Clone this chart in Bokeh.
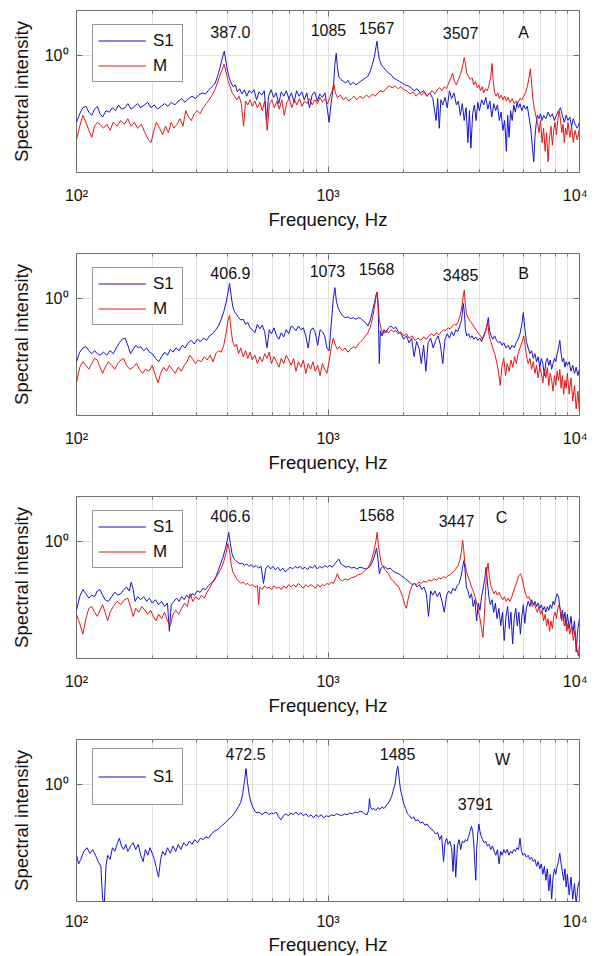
from bokeh.plotting import figure
from bokeh.models import (FixedTicker, LogAxis, Legend, LegendItem,
                          ColumnDataSource, Range1d)
from bokeh.layouts import column
from bokeh.embed import file_html
from bokeh.resources import INLINE
from bokeh.core.properties import value

FONT = "Liberation Sans"
BLUE = "#1414cc"
RED = "#e01818"

# ---------------- data (frequency Hz, spectral intensity) ----------------
A_S1 = [(100,0.29),(103,0.34),(106,0.38),(109,0.39),(112,0.35),(115,0.33),(118,0.37),(121,0.39),(124,0.34),(127,0.32),
        (131,0.36),(135,0.35),(139,0.38),(143,0.36),(147,0.40),(151,0.37),(156,0.38),(160,0.41),(165,0.37),(170,0.39),
        (175,0.41),(180,0.38),(186,0.40),(192,0.42),(198,0.38),(204,0.40),(210,0.37),(217,0.39),(224,0.41),(231,0.39),
        (238,0.42),(246,0.40),(254,0.43),(262,0.45),(270,0.42),(279,0.45),(288,0.47),(297,0.45),(306,0.48),(316,0.50),
        (326,0.49),(336,0.53),(346,0.56),(356,0.60),(364,0.68),(372,0.80),(380,0.95),(387,1.08),(392,0.92),(398,0.76),
        (405,0.66),(412,0.60),(420,0.56),(428,0.58),(436,0.51),(445,0.54),(455,0.49),(465,0.53),(475,0.47),(485,0.52),
        (497,0.50),(508,0.53),(520,0.44),(532,0.51),(545,0.48),(558,0.52),(570,0.30),(580,0.47),(594,0.53),(608,0.46),
        (622,0.50),(637,0.41),(652,0.51),(667,0.47),(683,0.52),(699,0.45),(716,0.50),(733,0.42),(750,0.52),(768,0.47),
        (786,0.51),(805,0.44),(824,0.50),(844,0.38),(864,0.48),(885,0.51),(906,0.43),(928,0.49),(950,0.46),(973,0.50),
        (996,0.36),(1010,0.29),(1030,0.42),(1050,0.55),(1065,0.85),(1078,1.04),(1090,0.80),(1105,0.67),(1125,0.64),(1150,0.62),
        (1175,0.60),(1200,0.63),(1230,0.58),(1260,0.61),(1290,0.58),(1320,0.60),(1350,0.62),(1380,0.64),(1410,0.66),(1440,0.68),
        (1470,0.74),(1500,0.84),(1530,0.98),(1555,1.20),(1567,1.30),(1580,1.10),(1600,0.93),(1630,0.84),(1660,0.80),(1700,0.76),
        (1740,0.72),(1780,0.70),(1820,0.66),(1870,0.64),(1920,0.62),(1970,0.60),(2020,0.58),(2080,0.57),(2140,0.55),(2200,0.52),
        (2260,0.54),(2330,0.50),(2400,0.52),(2470,0.47),(2540,0.50),(2610,0.45),(2690,0.30),(2730,0.45),(2770,0.26),(2810,0.44),
        (2860,0.40),(2920,0.46),(2980,0.38),(3040,0.52),(3100,0.45),(3170,0.50),(3240,0.40),(3300,0.43),(3360,0.33),(3420,0.41),
        (3480,0.30),(3540,0.38),(3600,0.20),(3650,0.36),(3700,0.18),(3760,0.34),(3820,0.40),(3880,0.30),(3940,0.42),(4000,0.36),
        (4080,0.44),(4160,0.40),(4240,0.46),(4320,0.37),(4400,0.43),(4480,0.32),(4560,0.41),(4640,0.36),(4720,0.40),(4800,0.30),
        (4880,0.35),(4960,0.25),(5040,0.30),(5120,0.17),(5180,0.33),(5250,0.22),(5320,0.36),(5400,0.30),(5480,0.40),(5560,0.35),
        (5640,0.42),(5720,0.38),(5800,0.41),(5900,0.36),(6000,0.40),(6100,0.37),(6200,0.39),(6300,0.32),(6400,0.26),(6500,0.18),
        (6580,0.14),(6650,0.22),(6720,0.28),(6800,0.33),(6900,0.31),(7000,0.34),(7100,0.30),(7200,0.33),(7350,0.31),(7500,0.35),
        (7650,0.32),(7800,0.34),(7950,0.30),(8100,0.33),(8250,0.36),(8400,0.38),(8550,0.33),(8700,0.29),(8850,0.33),(9000,0.30),
        (9150,0.32),(9300,0.27),(9450,0.31),(9600,0.28),(9800,0.26),(10000,0.29)]

A_M = [(100,0.21),(103,0.27),(106,0.33),(109,0.29),(112,0.25),(115,0.22),(118,0.27),(121,0.29),(124,0.28),(128,0.26),
       (132,0.28),(136,0.25),(140,0.29),(145,0.27),(150,0.30),(155,0.28),(160,0.31),(165,0.27),(170,0.29),(175,0.26),
       (181,0.28),(187,0.24),(193,0.21),(198,0.20),(203,0.25),(208,0.29),(214,0.26),(220,0.23),(226,0.27),(232,0.24),
       (238,0.29),(244,0.26),(251,0.28),(258,0.31),(265,0.27),(272,0.36),(279,0.32),(286,0.30),(294,0.34),(302,0.36),
       (310,0.34),(319,0.38),(328,0.41),(337,0.44),(346,0.48),(355,0.53),(363,0.60),(371,0.68),(379,0.76),(386,0.85),
       (393,0.74),(400,0.63),(408,0.56),(416,0.50),(425,0.47),(434,0.44),(443,0.47),(452,0.41),(462,0.27),(470,0.43),
       (480,0.40),(490,0.44),(500,0.39),(512,0.43),(524,0.38),(536,0.42),(548,0.36),(560,0.43),(573,0.25),(585,0.41),
       (598,0.44),(612,0.38),(626,0.43),(640,0.37),(655,0.44),(670,0.33),(686,0.42),(702,0.45),(718,0.38),(735,0.44),
       (752,0.40),(770,0.45),(788,0.39),(807,0.43),(826,0.41),(845,0.45),(865,0.40),(886,0.44),(907,0.41),(929,0.46),
       (951,0.42),(974,0.45),(997,0.41),(1020,0.47),(1040,0.52),(1055,0.59),(1070,0.50),(1090,0.46),(1120,0.48),(1150,0.44),
       (1180,0.46),(1210,0.43),(1240,0.45),(1270,0.47),(1300,0.44),(1340,0.47),(1380,0.45),(1420,0.48),(1460,0.46),(1500,0.49),
       (1540,0.47),(1580,0.50),(1620,0.52),(1660,0.51),(1700,0.54),(1750,0.57),(1800,0.55),(1850,0.57),(1900,0.54),(1950,0.56),
       (2000,0.53),(2060,0.52),(2120,0.49),(2180,0.51),(2240,0.47),(2300,0.50),(2360,0.48),(2420,0.51),(2480,0.47),(2540,0.50),
       (2600,0.52),(2660,0.49),(2720,0.53),(2780,0.55),(2840,0.52),(2900,0.56),(2960,0.54),(3020,0.60),(3080,0.66),(3130,0.72),
       (3180,0.62),(3240,0.58),(3300,0.64),(3360,0.70),(3420,0.80),(3480,0.96),(3520,0.86),(3560,0.72),(3620,0.68),(3680,0.64),
       (3740,0.66),(3800,0.58),(3860,0.62),(3920,0.55),(3980,0.58),(4040,0.52),(4100,0.56),(4160,0.50),(4230,0.54),(4300,0.52),
       (4370,0.58),(4430,0.66),(4490,0.86),(4540,0.62),(4600,0.50),(4660,0.47),(4730,0.50),(4800,0.45),(4880,0.48),(4960,0.44),
       (5040,0.47),(5120,0.43),(5200,0.46),(5300,0.42),(5400,0.45),(5500,0.41),(5600,0.43),(5700,0.42),(5800,0.45),(5900,0.44),
       (6000,0.47),(6100,0.50),(6200,0.56),(6300,0.66),(6380,0.78),(6450,0.60),(6520,0.46),(6600,0.38),(6700,0.33),(6800,0.29),
       (6900,0.24),(7000,0.30),(7100,0.20),(7200,0.26),(7300,0.17),(7400,0.24),(7500,0.14),(7600,0.22),(7700,0.27),(7800,0.19),
       (7900,0.25),(8000,0.29),(8100,0.23),(8200,0.30),(8300,0.36),(8400,0.31),(8500,0.24),(8600,0.28),(8700,0.20),(8800,0.26),
       (8900,0.23),(9000,0.29),(9150,0.22),(9300,0.27),(9450,0.20),(9600,0.25),(9800,0.21),(10000,0.26)]

B_S1 = [(100,0.31),(103,0.37),(106,0.40),(109,0.41),(112,0.38),(115,0.36),(118,0.38),(121,0.36),(124,0.35),(128,0.37),
        (132,0.35),(136,0.38),(140,0.36),(144,0.40),(148,0.44),(152,0.47),(156,0.48),(160,0.42),(164,0.36),(168,0.39),
        (172,0.42),(176,0.40),(180,0.41),(185,0.38),(190,0.40),(195,0.37),(200,0.36),(206,0.33),(212,0.31),(218,0.34),
        (224,0.37),(230,0.35),(236,0.39),(242,0.37),(249,0.40),(256,0.38),(263,0.42),(270,0.40),(278,0.44),(286,0.46),
        (294,0.43),(302,0.47),(311,0.45),(320,0.48),(329,0.46),(338,0.50),(348,0.52),(358,0.56),(367,0.60),(376,0.68),
        (385,0.78),(393,0.92),(400,1.10),(406,1.32),(412,1.05),(418,0.86),(425,0.78),(433,0.74),(441,0.70),(450,0.67),
        (460,0.68),(470,0.62),(480,0.64),(490,0.58),(500,0.56),(512,0.53),(524,0.62),(536,0.57),(548,0.61),(560,0.54),
        (572,0.40),(584,0.56),(596,0.52),(610,0.58),(624,0.50),(638,0.47),(652,0.53),(667,0.49),(682,0.56),(698,0.52),
        (714,0.60),(730,0.58),(746,0.55),(763,0.60),(780,0.56),(798,0.58),(816,0.50),(834,0.40),(852,0.55),(871,0.58),
        (890,0.53),(910,0.42),(930,0.56),(950,0.54),(970,0.50),(990,0.40),(1010,0.38),(1030,0.62),(1050,1.00),(1065,1.22),
        (1080,0.95),(1095,0.85),(1115,0.78),(1140,0.73),(1170,0.70),(1200,0.71),(1230,0.69),(1260,0.70),(1290,0.68),(1320,0.70),
        (1350,0.69),(1380,0.66),(1410,0.64),(1440,0.60),(1470,0.66),(1500,0.78),(1530,0.92),(1555,1.08),(1568,1.12),(1582,0.90),
        (1600,0.30),(1615,0.55),(1640,0.50),(1670,0.56),(1700,0.53),(1740,0.58),(1780,0.60),(1820,0.57),(1860,0.59),(1900,0.54),
        (1950,0.52),(2000,0.47),(2050,0.50),(2100,0.44),(2150,0.48),(2200,0.34),(2250,0.45),(2300,0.40),(2350,0.30),(2400,0.42),
        (2450,0.26),(2500,0.44),(2560,0.48),(2620,0.40),(2680,0.46),(2740,0.50),(2800,0.42),(2860,0.30),(2920,0.47),(2980,0.52),
        (3040,0.48),(3100,0.54),(3160,0.50),(3220,0.56),(3280,0.54),(3340,0.60),(3400,0.68),(3450,0.91),(3490,0.75),(3520,0.56),
        (3560,0.50),(3620,0.52),(3680,0.48),(3740,0.50),(3800,0.47),(3870,0.49),(3940,0.46),(4010,0.48),(4080,0.45),(4150,0.50),
        (4220,0.54),(4290,0.62),(4340,0.70),(4390,0.55),(4450,0.50),(4520,0.47),(4600,0.50),(4680,0.46),(4760,0.44),(4840,0.45),
        (4920,0.42),(5000,0.44),(5100,0.40),(5200,0.42),(5300,0.39),(5400,0.42),(5500,0.40),(5600,0.44),(5700,0.47),(5800,0.52),
        (5900,0.62),(5980,0.77),(6060,0.58),(6150,0.45),(6250,0.40),(6350,0.36),(6450,0.38),(6550,0.33),(6650,0.36),(6750,0.31),
        (6850,0.34),(6950,0.28),(7050,0.33),(7150,0.30),(7250,0.24),(7350,0.31),(7450,0.33),(7550,0.29),(7650,0.32),(7750,0.27),
        (7850,0.30),(7950,0.33),(8050,0.31),(8150,0.36),(8250,0.40),(8350,0.46),(8450,0.36),(8550,0.31),(8650,0.33),(8750,0.28),
        (8850,0.31),(8950,0.29),(9100,0.31),(9250,0.26),(9400,0.29),(9550,0.25),(9700,0.28),(9850,0.24),(10000,0.27)]

B_M = [(100,0.21),(103,0.28),(106,0.31),(109,0.29),(112,0.27),(115,0.30),(118,0.33),(121,0.32),(124,0.28),(127,0.25),
       (130,0.28),(134,0.31),(138,0.29),(142,0.27),(146,0.30),(150,0.32),(154,0.33),(158,0.29),(163,0.27),(168,0.28),
       (173,0.30),(178,0.27),(183,0.25),(188,0.27),(194,0.26),(200,0.29),(206,0.24),(211,0.21),(216,0.25),(222,0.28),
       (228,0.26),(234,0.29),(240,0.27),(247,0.25),(254,0.28),(261,0.26),(268,0.29),(275,0.31),(282,0.35),(289,0.33),
       (297,0.30),(305,0.32),(313,0.31),(322,0.34),(331,0.32),(340,0.35),(349,0.31),(358,0.36),(367,0.38),(376,0.37),
       (385,0.42),(393,0.52),(400,0.66),(406,0.73),(412,0.55),(418,0.45),(425,0.41),(433,0.43),(441,0.36),(450,0.40),
       (460,0.34),(470,0.38),(480,0.33),(490,0.37),(500,0.32),(512,0.35),(524,0.30),(536,0.34),(548,0.31),(560,0.36),
       (572,0.33),(584,0.37),(596,0.30),(610,0.34),(624,0.31),(638,0.28),(652,0.33),(667,0.30),(682,0.35),(698,0.32),
       (714,0.29),(730,0.33),(746,0.26),(763,0.31),(780,0.28),(798,0.32),(816,0.25),(834,0.30),(852,0.27),(871,0.31),
       (890,0.26),(910,0.29),(930,0.24),(950,0.30),(970,0.27),(990,0.25),(1010,0.31),(1030,0.40),(1050,0.48),(1070,0.42),
       (1090,0.39),(1110,0.41),(1140,0.38),(1170,0.40),(1200,0.37),(1230,0.39),(1260,0.41),(1290,0.40),(1320,0.43),(1350,0.45),
       (1380,0.47),(1410,0.50),(1440,0.53),(1470,0.58),(1500,0.68),(1530,0.85),(1555,1.05),(1568,1.12),(1582,0.88),(1600,0.66),
       (1630,0.56),(1660,0.52),(1700,0.55),(1740,0.53),(1780,0.56),(1820,0.54),(1860,0.55),(1900,0.52),(1950,0.54),(2000,0.50),
       (2050,0.52),(2100,0.48),(2160,0.50),(2220,0.46),(2280,0.48),(2340,0.46),(2400,0.49),(2460,0.47),(2520,0.50),(2580,0.52),
       (2640,0.50),(2700,0.53),(2760,0.51),(2820,0.54),(2880,0.56),(2940,0.55),(3000,0.58),(3060,0.57),(3120,0.60),(3180,0.62),
       (3240,0.61),(3300,0.66),(3360,0.74),(3420,0.90),(3460,1.10),(3485,1.16),(3510,0.92),(3550,0.76),(3600,0.70),(3650,0.67),
       (3710,0.64),(3770,0.61),(3830,0.58),(3900,0.55),(3970,0.52),(4040,0.50),(4110,0.47),(4180,0.50),(4250,0.56),(4320,0.64),
       (4370,0.50),(4440,0.45),(4520,0.40),(4600,0.36),(4680,0.31),(4760,0.26),(4840,0.20),(4920,0.29),(5000,0.33),(5080,0.24),
       (5160,0.30),(5250,0.26),(5340,0.32),(5430,0.28),(5520,0.34),(5610,0.30),(5700,0.36),(5800,0.40),(5900,0.44),(6000,0.50),
       (6080,0.42),(6160,0.34),(6250,0.30),(6350,0.33),(6450,0.27),(6550,0.31),(6650,0.25),(6750,0.29),(6850,0.23),(6950,0.28),
       (7050,0.25),(7150,0.21),(7250,0.27),(7350,0.23),(7450,0.28),(7550,0.20),(7650,0.25),(7750,0.22),(7850,0.18),(7950,0.24),
       (8050,0.20),(8150,0.26),(8250,0.22),(8350,0.27),(8450,0.19),(8550,0.24),(8650,0.17),(8750,0.22),(8850,0.19),(8950,0.25),
       (9100,0.17),(9250,0.23),(9400,0.15),(9550,0.20),(9700,0.13),(9850,0.18),(10000,0.12)]

C_S1 = [(100,0.28),(103,0.36),(106,0.41),(109,0.38),(112,0.35),(115,0.37),(118,0.36),(121,0.40),(124,0.41),(127,0.37),
        (130,0.34),(134,0.33),(138,0.36),(142,0.39),(146,0.37),(150,0.38),(154,0.41),(158,0.43),(162,0.40),(165,0.47),
        (168,0.41),(171,0.33),(175,0.36),(180,0.34),(185,0.36),(190,0.33),(195,0.35),(200,0.32),(206,0.34),(212,0.31),
        (218,0.33),(224,0.30),(230,0.32),(234,0.19),(238,0.31),(244,0.33),(250,0.35),(256,0.33),(262,0.36),(268,0.34),
        (274,0.37),(281,0.35),(288,0.38),(295,0.37),(302,0.40),(310,0.39),(318,0.42),(326,0.41),(334,0.44),(342,0.46),
        (350,0.48),(358,0.52),(366,0.58),(374,0.66),(382,0.74),(390,0.86),(397,1.00),(403,1.18),(409,0.96),(415,0.80),
        (422,0.73),(430,0.70),(438,0.68),(447,0.66),(456,0.67),(465,0.64),(475,0.66),(485,0.63),(495,0.65),(506,0.62),
        (518,0.64),(530,0.61),(542,0.63),(554,0.46),(566,0.61),(578,0.64),(591,0.60),(604,0.63),(618,0.59),(632,0.62),
        (646,0.58),(661,0.61),(676,0.57),(691,0.59),(707,0.62),(723,0.60),(740,0.63),(757,0.61),(774,0.63),(792,0.60),
        (810,0.62),(829,0.59),(848,0.63),(867,0.61),(887,0.64),(907,0.60),(928,0.63),(949,0.61),(971,0.64),(993,0.62),
        (1016,0.64),(1040,0.62),(1064,0.66),(1088,0.70),(1105,0.72),(1125,0.66),(1150,0.64),(1180,0.62),(1210,0.63),(1240,0.61),
        (1270,0.62),(1300,0.60),(1340,0.62),(1380,0.61),(1420,0.60),(1460,0.62),(1500,0.68),(1535,0.78),(1560,0.88),(1580,0.72),
        (1600,0.55),(1620,0.60),(1650,0.63),(1690,0.62),(1730,0.60),(1770,0.61),(1810,0.58),(1860,0.56),(1910,0.55),(1960,0.53),
        (2010,0.51),(2060,0.49),(2110,0.47),(2160,0.45),(2210,0.46),(2260,0.43),(2310,0.45),(2360,0.41),(2410,0.43),(2460,0.38),
        (2510,0.25),(2560,0.40),(2610,0.37),(2660,0.40),(2720,0.36),(2780,0.39),(2840,0.33),(2900,0.27),(2960,0.37),(3020,0.40),
        (3080,0.38),(3140,0.42),(3200,0.40),(3260,0.44),(3320,0.46),(3380,0.52),(3430,0.62),(3470,0.70),(3510,0.58),(3550,0.43),
        (3600,0.40),(3660,0.35),(3720,0.38),(3780,0.30),(3840,0.34),(3900,0.23),(3960,0.32),(4020,0.28),(4080,0.36),(4140,0.42),
        (4200,0.50),(4250,0.62),(4300,0.48),(4360,0.36),(4420,0.31),(4490,0.34),(4560,0.27),(4630,0.32),(4700,0.24),(4780,0.29),
        (4860,0.21),(4940,0.27),(5020,0.16),(5100,0.25),(5180,0.30),(5260,0.20),(5340,0.27),(5420,0.15),(5500,0.24),(5580,0.29),
        (5660,0.21),(5740,0.27),(5820,0.18),(5900,0.25),(5980,0.31),(6060,0.22),(6150,0.29),(6250,0.33),(6350,0.30),(6450,0.34),
        (6550,0.31),(6650,0.33),(6750,0.30),(6850,0.32),(6950,0.29),(7050,0.31),(7150,0.28),(7250,0.30),(7350,0.27),(7450,0.30),
        (7550,0.28),(7650,0.31),(7750,0.29),(7850,0.33),(7950,0.31),(8050,0.35),(8150,0.38),(8250,0.36),(8350,0.30),(8450,0.24),
        (8550,0.28),(8650,0.23),(8750,0.27),(8850,0.21),(8950,0.26),(9100,0.20),(9250,0.25),(9400,0.18),(9550,0.23),(9700,0.13),
        (9850,0.20),(10000,0.24)]

C_M = [(100,0.26),(103,0.22),(106,0.18),(109,0.24),(112,0.29),(115,0.30),(118,0.27),(121,0.25),(124,0.28),(127,0.31),
       (130,0.27),(133,0.23),(136,0.27),(140,0.30),(145,0.33),(150,0.31),(155,0.34),(160,0.35),(164,0.30),(168,0.25),
       (172,0.29),(177,0.27),(182,0.30),(187,0.28),(192,0.26),(197,0.28),(202,0.25),(207,0.23),(212,0.26),(218,0.24),
       (224,0.27),(230,0.23),(236,0.21),(242,0.26),(248,0.28),(255,0.26),(262,0.29),(269,0.32),(276,0.30),(283,0.38),
       (290,0.33),(298,0.36),(306,0.34),(314,0.37),(322,0.35),(330,0.39),(338,0.42),(346,0.46),(354,0.49),(362,0.53),
       (370,0.57),(378,0.62),(386,0.70),(394,0.82),(400,0.96),(406,0.84),(412,0.66),(418,0.57),(425,0.54),(433,0.50),
       (441,0.48),(450,0.46),(460,0.47),(470,0.45),(480,0.46),(490,0.44),(500,0.45),(512,0.43),(524,0.44),(530,0.31),
       (536,0.43),(548,0.41),(560,0.44),(572,0.42),(584,0.43),(596,0.41),(610,0.44),(624,0.42),(638,0.43),(652,0.41),
       (667,0.44),(682,0.42),(698,0.45),(714,0.43),(730,0.45),(746,0.43),(763,0.46),(780,0.44),(798,0.42),(816,0.45),
       (834,0.43),(852,0.45),(871,0.44),(890,0.42),(910,0.45),(930,0.43),(950,0.45),(970,0.44),(990,0.46),(1010,0.45),
       (1030,0.47),(1050,0.46),(1070,0.50),(1090,0.55),(1110,0.50),(1140,0.48),(1170,0.50),(1200,0.49),(1240,0.51),(1280,0.52),
       (1320,0.54),(1360,0.55),(1400,0.58),(1440,0.61),(1480,0.68),(1520,0.82),(1550,1.00),(1568,1.18),(1585,0.95),(1605,0.78),
       (1630,0.66),(1660,0.62),(1700,0.58),(1740,0.55),(1780,0.50),(1820,0.48),(1860,0.45),(1900,0.44),(1940,0.40),(1980,0.36),
       (2020,0.31),(2050,0.29),(2080,0.34),(2120,0.40),(2160,0.44),(2200,0.46),(2250,0.45),(2300,0.47),(2350,0.46),(2400,0.48),
       (2460,0.47),(2520,0.49),(2580,0.48),(2640,0.50),(2700,0.49),(2760,0.51),(2820,0.50),(2880,0.52),(2940,0.51),(3000,0.53),
       (3060,0.54),(3120,0.56),(3180,0.58),(3240,0.61),(3290,0.64),(3340,0.70),(3390,0.82),(3430,1.02),(3460,0.88),(3500,0.68),
       (3550,0.58),(3600,0.52),(3660,0.48),(3720,0.43),(3780,0.40),(3840,0.36),(3900,0.32),(3960,0.28),(4020,0.24),(4080,0.20),
       (4130,0.17),(4180,0.24),(4230,0.40),(4280,0.58),(4330,0.67),(4380,0.52),(4440,0.44),(4500,0.41),(4570,0.38),(4640,0.40),
       (4710,0.37),(4790,0.39),(4870,0.36),(4950,0.34),(5030,0.36),(5110,0.33),(5200,0.35),(5290,0.33),(5380,0.36),(5470,0.40),
       (5560,0.44),(5650,0.48),(5740,0.53),(5830,0.55),(5920,0.50),(6010,0.43),(6100,0.38),(6200,0.35),(6300,0.36),(6400,0.33),
       (6500,0.30),(6600,0.32),(6700,0.29),(6800,0.27),(6900,0.30),(7000,0.26),(7100,0.28),(7200,0.23),(7300,0.26),(7400,0.21),
       (7500,0.24),(7600,0.19),(7700,0.23),(7800,0.20),(7900,0.25),(8000,0.27),(8100,0.24),(8200,0.29),(8300,0.31),(8400,0.28),
       (8500,0.23),(8600,0.26),(8700,0.21),(8800,0.24),(8900,0.19),(9000,0.22),(9150,0.18),(9300,0.21),(9450,0.16),(9600,0.19),
       (9750,0.14),(9900,0.12),(10000,0.15)]

W_S1 = [(100,0.27),(102,0.23),(104,0.25),(107,0.29),(110,0.31),(113,0.28),(116,0.30),(119,0.27),(122,0.24),(125,0.22),
        (127,0.12),(129,0.11),(131,0.22),(133,0.27),(136,0.25),(139,0.31),(142,0.29),(145,0.33),(148,0.37),(151,0.32),
        (154,0.30),(157,0.33),(160,0.29),(164,0.32),(168,0.34),(172,0.30),(176,0.33),(180,0.27),(184,0.24),(188,0.30),
        (192,0.27),(196,0.31),(200,0.28),(204,0.25),(208,0.21),(212,0.18),(216,0.25),(220,0.29),(225,0.27),(230,0.31),
        (236,0.28),(242,0.32),(248,0.29),(254,0.33),(260,0.30),(267,0.34),(274,0.32),(281,0.35),(288,0.33),(295,0.36),
        (303,0.34),(311,0.37),(319,0.36),(327,0.38),(335,0.37),(344,0.40),(353,0.42),(362,0.43),(371,0.45),(380,0.47),
        (390,0.49),(400,0.52),(410,0.54),(420,0.57),(430,0.61),(440,0.66),(450,0.72),(458,0.84),(465,1.05),(472,1.34),
        (478,1.05),(485,0.85),(493,0.73),(502,0.66),(512,0.61),(522,0.59),(533,0.60),(545,0.57),(557,0.59),(569,0.60),
        (582,0.57),(595,0.59),(608,0.58),(622,0.60),(636,0.55),(650,0.52),(665,0.56),(680,0.58),(696,0.56),(712,0.59),
        (728,0.57),(745,0.60),(762,0.57),(780,0.59),(798,0.56),(817,0.58),(836,0.55),(856,0.57),(876,0.54),(896,0.57),
        (917,0.55),(939,0.57),(961,0.54),(984,0.56),(1008,0.55),(1032,0.57),(1057,0.56),(1082,0.58),(1108,0.57),(1135,0.56),
        (1163,0.58),(1191,0.57),(1220,0.59),(1250,0.58),(1280,0.60),(1310,0.59),(1340,0.61),(1370,0.60),(1400,0.58),(1430,0.57),
        (1450,0.62),(1462,0.77),(1475,0.66),(1495,0.63),(1520,0.64),(1550,0.62),(1580,0.65),(1610,0.63),(1640,0.66),(1670,0.64),
        (1700,0.67),(1730,0.70),(1760,0.74),(1790,0.80),(1820,0.90),(1850,1.02),(1875,1.28),(1895,1.40),(1915,1.15),(1940,0.92),
        (1970,0.80),(2000,0.70),(2035,0.64),(2070,0.58),(2110,0.56),(2150,0.53),(2190,0.55),(2230,0.51),(2280,0.52),(2330,0.49),
        (2380,0.50),(2430,0.47),(2480,0.48),(2530,0.45),(2580,0.44),(2630,0.42),(2680,0.40),(2730,0.41),(2780,0.36),(2830,0.39),
        (2880,0.24),(2920,0.34),(2960,0.37),(3000,0.33),(3050,0.35),(3100,0.31),(3140,0.20),(3180,0.33),(3220,0.18),(3270,0.32),
        (3320,0.36),(3370,0.30),(3420,0.35),(3470,0.34),(3520,0.36),(3570,0.35),(3620,0.38),(3670,0.42),(3720,0.46),(3760,0.42),
        (3800,0.33),(3840,0.22),(3870,0.17),(3900,0.30),(3940,0.40),(3980,0.48),(4020,0.42),(4070,0.38),(4120,0.36),(4180,0.34),
        (4240,0.35),(4300,0.32),(4370,0.33),(4440,0.30),(4510,0.32),(4580,0.29),(4650,0.27),(4720,0.30),(4790,0.23),(4860,0.29),
        (4930,0.27),(5000,0.30),(5080,0.28),(5160,0.30),(5240,0.27),(5320,0.29),(5400,0.28),(5480,0.30),(5560,0.29),(5640,0.31),
        (5720,0.30),(5800,0.37),(5880,0.29),(5960,0.27),(6050,0.28),(6150,0.26),(6250,0.27),(6350,0.25),(6450,0.26),(6550,0.24),
        (6650,0.25),(6750,0.22),(6850,0.24),(6950,0.21),(7050,0.23),(7150,0.19),(7250,0.22),(7350,0.17),(7450,0.21),(7550,0.14),
        (7650,0.19),(7750,0.12),(7850,0.18),(7950,0.21),(8050,0.19),(8150,0.22),(8250,0.24),(8350,0.28),(8450,0.23),(8550,0.20),
        (8650,0.17),(8750,0.21),(8850,0.15),(8950,0.19),(9100,0.13),(9250,0.18),(9400,0.12),(9550,0.16),(9700,0.11),(9850,0.15),
        (10000,0.17)]

# peak annotations: text, frequency, intensity
A_NOTES = [("387.0", 409, 1.53), ("1085", 1004, 1.61), ("1567", 1560, 1.67), ("3507", 3365, 1.50), ("A", 5990, 1.53)]
B_NOTES = [("406.9", 409, 1.585), ("1073", 995, 1.67), ("1568", 1560, 1.71), ("3485", 3365, 1.55), ("B", 5990, 1.585)]
C_NOTES = [("406.6", 409, 1.585), ("1568", 1560, 1.64), ("3447", 3243, 1.47), ("C", 4895, 1.55)]
W_NOTES = [("472.5", 470, 1.74), ("1485", 1890, 1.74), ("3791", 3857, 0.70), ("W", 4940, 1.585)]

X_MAJOR = [100, 1000, 10000]
X_MINOR = [200, 300, 400, 500, 600, 700, 800, 900, 2000, 3000, 4000, 5000, 6000, 7000, 8000, 9000]
X_LABELS = {100: "10²", 1000: "10³", 10000: "10⁴"}
Y_MAJOR = [1]
Y_LABELS = {1: "10⁰"}
X_TITLE = "Frequency, Hz"
Y_TITLE = "Spectral intensity"

PANELS = [
    ([("S1", A_S1, BLUE), ("M", A_M, RED)], A_NOTES),
    ([("S1", B_S1, BLUE), ("M", B_M, RED)], B_NOTES),
    ([("S1", C_S1, BLUE), ("M", C_M, RED)], C_NOTES),
    ([("S1", W_S1, BLUE)], W_NOTES),
]

FRAME_C = "#6e6e6e"
GRID_C = "#e0e0e0"


def style_axis(ax, labels=True):
    ax.axis_line_color = None
    ax.major_tick_line_color = FRAME_C
    ax.minor_tick_line_color = FRAME_C
    ax.major_tick_in = 6
    ax.major_tick_out = 0
    ax.minor_tick_in = 3
    ax.minor_tick_out = 0
    if labels:
        ax.major_label_text_font = FONT
        ax.major_label_text_font_size = "16px"
        ax.major_label_text_color = "#111111"
        ax.axis_label_text_font = FONT
        ax.axis_label_text_font_size = "18.5px"
        ax.axis_label_text_font_style = "normal"
        ax.axis_label_text_color = "#111111"
    else:
        ax.major_label_text_font_size = "1px"
        ax.major_label_text_alpha = 0
        ax.major_label_standoff = 0


figs = []
n = len(PANELS)
for i, (series, notes) in enumerate(PANELS):
    last = (i == n - 1)
    bottom = 53 if last else 71
    p = figure(x_axis_type="log", y_axis_type="log",
               x_range=Range1d(100, 10000), y_range=Range1d(10 ** -0.94, 10 ** 0.36),
               frame_width=503, frame_height=162,
               min_border_left=76, min_border_right=8, min_border_top=10, min_border_bottom=bottom,
               output_backend="svg", toolbar_location=None, tools="")
    p.outline_line_color = FRAME_C
    p.outline_line_width = 1
    p.background_fill_color = "white"
    p.border_fill_color = "white"

    xt = FixedTicker(ticks=X_MAJOR, minor_ticks=X_MINOR)
    yt = FixedTicker(ticks=Y_MAJOR, minor_ticks=[])
    p.xaxis.ticker = xt
    p.yaxis.ticker = yt
    p.xaxis.major_label_overrides = X_LABELS
    p.yaxis.major_label_overrides = Y_LABELS
    p.xaxis.axis_label = X_TITLE
    p.yaxis.axis_label = Y_TITLE
    style_axis(p.xaxis[0])
    style_axis(p.yaxis[0])
    p.xaxis.major_label_standoff = 11 if last else 14
    p.xaxis.axis_label_standoff = 1 if last else 2
    p.yaxis.major_label_standoff = 8
    p.yaxis.axis_label_standoff = 10

    top_ax = LogAxis(ticker=xt)
    right_ax = LogAxis(ticker=yt)
    style_axis(top_ax, labels=False)
    style_axis(right_ax, labels=False)
    p.add_layout(top_ax, "above")
    p.add_layout(right_ax, "right")

    p.xgrid.ticker = xt
    p.ygrid.ticker = yt
    p.xgrid.grid_line_color = GRID_C
    p.xgrid.minor_grid_line_color = GRID_C
    p.ygrid.grid_line_color = GRID_C

    items = []
    for name, pts, color in series:
        src = ColumnDataSource(dict(f=[a for a, b in pts], v=[b for a, b in pts]))
        r = p.line("f", "v", source=src, line_color=color, line_width=1)
        items.append(LegendItem(label=name, renderers=[r]))

    nsrc = ColumnDataSource(dict(f=[a[1] for a in notes], v=[a[2] for a in notes], t=[a[0] for a in notes]))
    p.text("f", "v", text="t", source=nsrc, text_font=value(FONT), text_font_size=value("16px"),
           text_align="center", text_baseline="middle", text_color="#111111")

    one = len(items) == 1
    leg = Legend(items=items, location=(16, 96 if one else 90),
                 padding=5, spacing=4, margin=0,
                 glyph_width=48, glyph_height=(45 if one else 21), label_height=(45 if one else 21),
                 label_standoff=7, label_width=24,
                 label_text_font=FONT, label_text_font_size="17px", label_text_color="#111111",
                 border_line_color="#333333", border_line_width=1,
                 background_fill_color="white", background_fill_alpha=1)
    p.add_layout(leg)
    figs.append(p)

layout = column(*figs)
open("out.html", "w").write(file_html(layout, INLINE))
